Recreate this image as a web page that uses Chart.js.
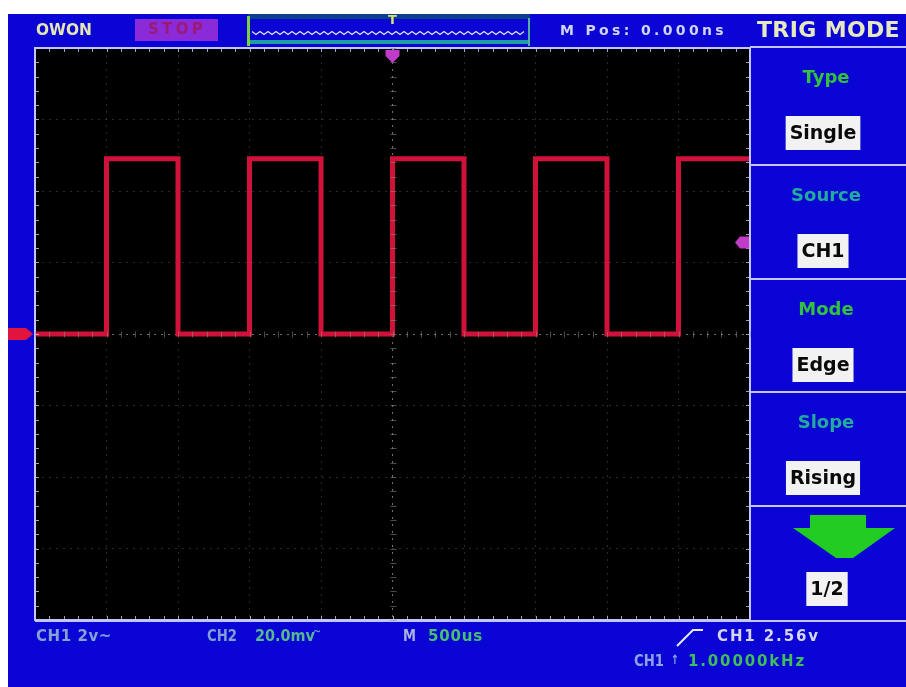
<!DOCTYPE html>
<html>
<head>
<meta charset="utf-8">
<script src="https://cdn.jsdelivr.net/npm/chart.js@4/dist/chart.umd.min.js"></script>
<style>
  html, body { margin: 0; padding: 0; background: #fff; overflow: hidden; }
  canvas { display: block; }
</style>
</head>
<body>
<canvas id="scope" width="906" height="687"></canvas>
<script>
// CH1 square wave, 500us/div, 2V/div
const timesMs = [-2.5, -2.0, -1.5, -1.0, -0.5, 0, 0.5, 1.0, 1.5, 2.0, 2.5];
const ch1Volts = [0, 4.9, 0, 4.9, 0, 4.9, 0, 4.9, 0, 4.9, 4.9];
const trigLevelV = 2.56;
const timeRange = [-2.5, 2.5];  // 10 div
const voltRange = [-8, 8];      // 8 div
const menuTitles = ['Type', 'Source', 'Mode', 'Slope'];
const menuValues = ['Single', 'CH1', 'Edge', 'Rising'];
const menuTitleColors = ['#33c23c', '#22ab9c', '#33c23c', '#22ab9c'];

const BLUE = '#0a04d4';
const FRAME = '#c4c4ff';
const FONT = '"DejaVu Sans", sans-serif';

// draw text stretched to a given width
function fitText(ctx, text, x, y, w, size, color) {
  ctx.save();
  ctx.font = 'bold ' + size + 'px ' + FONT;
  ctx.fillStyle = color;
  ctx.textBaseline = 'middle';
  ctx.textAlign = 'left';
  const m = ctx.measureText(text).width;
  if (m < w) {
    ctx.letterSpacing = ((w - m) / text.length) + 'px';
    ctx.fillText(text, x, y);
  } else {
    ctx.fillText(text, x, y, w);
  }
  ctx.restore();
}

function centerText(ctx, text, cx, cy, size, color) {
  ctx.save();
  ctx.font = 'bold ' + size + 'px ' + FONT;
  ctx.fillStyle = color;
  ctx.textBaseline = 'middle';
  ctx.textAlign = 'center';
  ctx.fillText(text, cx, cy);
  ctx.restore();
}

function valueBox(ctx, text, cx, cy) {
  ctx.save();
  ctx.font = 'bold 19px ' + FONT;
  const w = ctx.measureText(text).width + 8;
  ctx.fillStyle = '#f2f2f2';
  ctx.fillRect(cx - w / 2, cy - 17, w, 34);
  ctx.restore();
  centerText(ctx, text, cx, cy + 1, 19, '#0a0a0a');
}

const scopeUI = {
  id: 'scopeUI',
  beforeDraw(chart) {
    const ctx = chart.ctx;
    const a = chart.chartArea;
    ctx.save();
    ctx.fillStyle = '#ffffff';
    ctx.fillRect(0, 0, chart.width, chart.height);
    ctx.fillStyle = BLUE;
    ctx.fillRect(8, 14, chart.width - 8, chart.height - 14);
    ctx.fillStyle = '#000000';
    ctx.fillRect(a.left, a.top, a.right - a.left, a.bottom - a.top);
    ctx.restore();
  },
  afterDraw(chart) {
    const ctx = chart.ctx;
    const a = chart.chartArea;
    const xs = chart.scales.x, ys = chart.scales.y;
    ctx.save();

    // frame + ticks
    ctx.strokeStyle = FRAME;
    ctx.lineWidth = 2;
    ctx.strokeRect(a.left, a.top, a.right - a.left, a.bottom - a.top);
    ctx.beginPath();
    ctx.moveTo(a.right, a.top - 1); ctx.lineTo(chart.width, a.top - 1);
    ctx.moveTo(a.left, a.bottom + 1); ctx.lineTo(chart.width, a.bottom + 1);
    ctx.stroke();
    ctx.lineWidth = 1;
    ctx.strokeStyle = 'rgba(200,200,255,0.8)';
    ctx.beginPath();
    for (let t = timeRange[0]; t <= timeRange[1] + 1e-9; t += 0.1) {
      const px = Math.round(xs.getPixelForValue(t)) + 0.5;
      ctx.moveTo(px, a.top); ctx.lineTo(px, a.top + 4);
      ctx.moveTo(px, a.bottom); ctx.lineTo(px, a.bottom - 4);
    }
    for (let v = voltRange[0]; v <= voltRange[1] + 1e-9; v += 0.4) {
      const py = Math.round(ys.getPixelForValue(v)) + 0.5;
      ctx.moveTo(a.left, py); ctx.lineTo(a.left + 4, py);
      ctx.moveTo(a.right, py); ctx.lineTo(a.right - 4, py);
    }
    ctx.stroke();
    // centre cross ticks
    ctx.strokeStyle = 'rgba(140,140,140,0.55)';
    ctx.beginPath();
    const cx0 = Math.round(xs.getPixelForValue(0)) + 0.5;
    const cy0 = Math.round(ys.getPixelForValue(0)) + 0.5;
    for (let t = timeRange[0]; t <= timeRange[1] + 1e-9; t += 0.1) {
      const px = Math.round(xs.getPixelForValue(t)) + 0.5;
      ctx.moveTo(px, cy0 - 3); ctx.lineTo(px, cy0 + 3);
    }
    for (let v = voltRange[0]; v <= voltRange[1] + 1e-9; v += 0.4) {
      const py = Math.round(ys.getPixelForValue(v)) + 0.5;
      ctx.moveTo(cx0 - 3, py); ctx.lineTo(cx0 + 3, py);
    }
    ctx.stroke();

    // right panel
    ctx.strokeStyle = FRAME;
    ctx.lineWidth = 2;
    const sections = [47, 165, 279, 392, 506, 621];
    ctx.beginPath();
    for (let i = 1; i < sections.length - 1; i++) {
      ctx.moveTo(a.right, sections[i]); ctx.lineTo(chart.width, sections[i]);
    }
    ctx.stroke();
    menuTitles.forEach((t, i) => {
      centerText(ctx, t, 826, sections[i] + 31, 18, menuTitleColors[i]);
      valueBox(ctx, menuValues[i], 823, sections[i] + 86);
    });
    // next-page arrow
    ctx.fillStyle = '#22cc22';
    ctx.beginPath();
    ctx.moveTo(810, 515); ctx.lineTo(866, 515); ctx.lineTo(866, 528);
    ctx.lineTo(895, 528); ctx.lineTo(853, 558); ctx.lineTo(836, 558);
    ctx.lineTo(793, 528); ctx.lineTo(810, 528); ctx.closePath();
    ctx.fill();
    valueBox(ctx, '1/2', 827, 589);

    // header bar
    fitText(ctx, 'TRIG MODE', 757, 31, 143, 22, '#e6e8c0');
    fitText(ctx, 'OWON', 36, 31, 56, 16, '#e4e6b4');
    ctx.fillStyle = '#8a2ad8';
    ctx.fillRect(135, 19, 83, 22);
    fitText(ctx, 'STOP', 148, 30, 58, 15, '#9a1a78');
    // memory bar
    ctx.fillStyle = '#0b3f8c';
    ctx.fillRect(248, 14, 282, 5);
    ctx.fillStyle = '#1d9ea0';
    ctx.fillRect(248, 40, 282, 4);
    ctx.strokeStyle = '#dfe4ff';
    ctx.lineWidth = 1.2;
    ctx.beginPath();
    for (let px = 252; px < 528; px += 4) {
      ctx.lineTo(px, 33 + ((px / 4) % 2 ? -1.5 : 1.5));
    }
    ctx.stroke();
    ctx.fillStyle = '#7cd03c';
    ctx.fillRect(247, 16, 3, 30);
    ctx.fillStyle = '#4fb0a0';
    ctx.fillRect(528, 18, 2, 28);
    fitText(ctx, 'T', 388, 21, 10, 13, '#d8e070');
    fitText(ctx, 'M Pos: 0.000ns', 560, 31, 167, 14, '#d2d4f4');

    // markers
    const tx = xs.getPixelForValue(0);
    ctx.fillStyle = '#c03cc8';
    ctx.beginPath();
    ctx.moveTo(tx - 7, a.top + 2); ctx.lineTo(tx + 7, a.top + 2);
    ctx.lineTo(tx + 7, a.top + 8); ctx.lineTo(tx, a.top + 15); ctx.lineTo(tx - 7, a.top + 8);
    ctx.closePath(); ctx.fill();
    const ty = ys.getPixelForValue(trigLevelV);
    ctx.beginPath();
    ctx.moveTo(a.right - 1, ty - 6); ctx.lineTo(a.right - 10, ty - 6);
    ctx.lineTo(a.right - 15, ty); ctx.lineTo(a.right - 10, ty + 6); ctx.lineTo(a.right - 1, ty + 6);
    ctx.closePath(); ctx.fill();
    const gy = ys.getPixelForValue(0);
    ctx.fillStyle = '#e0143c';
    ctx.beginPath();
    ctx.moveTo(8, gy - 6); ctx.lineTo(26, gy - 6); ctx.lineTo(33, gy);
    ctx.lineTo(26, gy + 6); ctx.lineTo(8, gy + 6);
    ctx.closePath(); ctx.fill();

    // status line
    fitText(ctx, 'CH1 2v~', 36, 637, 76, 15, '#86a2d4');
    fitText(ctx, 'CH2', 207, 637, 30, 15, '#7fa0d0');
    fitText(ctx, '20.0mv', 255, 637, 60, 15, '#58b890');
    fitText(ctx, '~', 313, 632, 8, 11, '#6a9ad0');
    fitText(ctx, 'M', 403, 637, 13, 15, '#a8b4e0');
    fitText(ctx, '500us', 428, 637, 55, 15, '#48c070');
    ctx.strokeStyle = '#e8e8ff';
    ctx.lineWidth = 2;
    ctx.beginPath();
    ctx.moveTo(677, 646); ctx.lineTo(693, 630); ctx.lineTo(703, 630);
    ctx.stroke();
    fitText(ctx, 'CH1 2.56v', 717, 637, 103, 15, '#d4d6f0');
    fitText(ctx, 'CH1', 634, 662, 30, 15, '#8ea4e4');
    fitText(ctx, '↑', 671, 661, 8, 13, '#8ea4e4');
    fitText(ctx, '1.00000kHz', 688, 662, 118, 15, '#3fbf5a');

    ctx.restore();
  }
};

const points = timesMs.map((t, i) => ({ x: t, y: ch1Volts[i] }));
const gridColor = c => (c.tick && c.tick.value === 0) ? 'rgba(160,160,160,0.7)' : 'rgba(80,88,80,0.5)';

new Chart(document.getElementById('scope'), {
  type: 'line',
  data: {
    datasets: [{
      label: 'CH1',
      data: points,
      stepped: 'before',
      borderColor: '#d0123a',
      borderWidth: 5,
      pointRadius: 0,
      fill: false
    }]
  },
  options: {
    responsive: false,
    animation: false,
    devicePixelRatio: 1,
    layout: { padding: { left: 35, top: 48, right: 156, bottom: 67 } },
    plugins: { legend: { display: false }, tooltip: { enabled: false }, title: { display: false } },
    scales: {
      x: {
        type: 'linear',
        min: timeRange[0],
        max: timeRange[1],
        ticks: { display: false, stepSize: 0.5 },
        grid: { drawTicks: false, lineWidth: 1, color: gridColor },
        border: { display: false, dash: [2, 5] }
      },
      y: {
        type: 'linear',
        min: voltRange[0],
        max: voltRange[1],
        ticks: { display: false, stepSize: 2 },
        grid: { drawTicks: false, lineWidth: 1, color: gridColor },
        border: { display: false, dash: [2, 5] }
      }
    }
  },
  plugins: [scopeUI]
});
</script>
</body>
</html>
